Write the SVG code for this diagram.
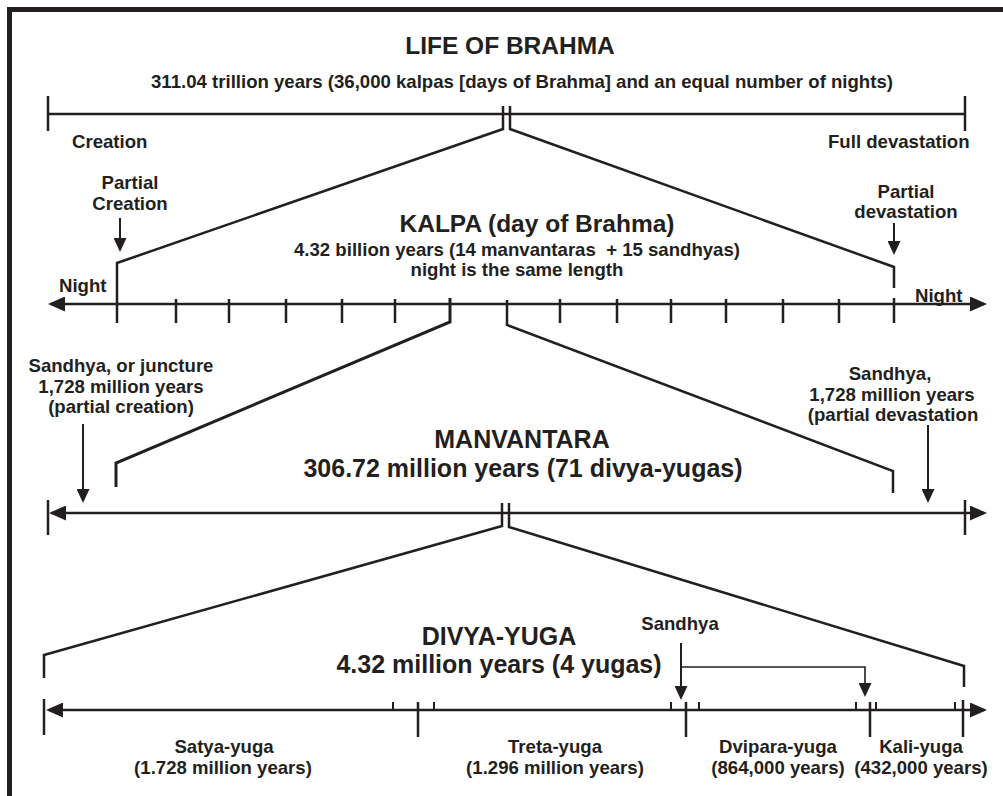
<svg xmlns="http://www.w3.org/2000/svg" width="1003" height="796" viewBox="0 0 1003 796">
<defs>
<style>
text{font-family:"Liberation Sans",Arial,sans-serif;font-weight:bold;fill:#231f20}
.s{font-size:18.6px}
.t{font-size:25px}
.c{text-anchor:middle}
.ln{stroke:#231f20;stroke-width:2.5;fill:none}
.th{stroke:#231f20;stroke-width:2;fill:none}
.tn{stroke:#231f20;stroke-width:1.6;fill:none}
</style>
<marker id="ah" viewBox="0 0 17 15" refX="14" refY="7.5" markerWidth="17" markerHeight="15" markerUnits="userSpaceOnUse" orient="auto-start-reverse"><path d="M0,0 L17,7.5 L0,15 z" fill="#231f20"/></marker>
<marker id="dh" viewBox="0 0 14 13" refX="11" refY="6.5" markerWidth="14" markerHeight="13" markerUnits="userSpaceOnUse" orient="auto"><path d="M0,0 L14,6.5 L0,13 z" fill="#231f20"/></marker>
</defs>
<rect width="1003" height="796" fill="#ffffff"/>
<path d="M9.5,800 V9.5 H1010" stroke="#231f20" stroke-width="5" fill="none"/>

<g id="connectors">
<!-- Life of Brahma axis -->
<line class="ln" x1="48" y1="114" x2="965" y2="114"/>
<line class="ln" x1="48" y1="96" x2="48" y2="131"/>
<line class="ln" x1="965" y1="96" x2="965" y2="131"/>
<polyline class="ln" points="503,106 503,129 117,263 117,323"/>
<polyline class="ln" points="510,106 510,129 894,267 894,288"/>
<!-- Kalpa axis -->
<line class="ln" x1="51" y1="304" x2="984" y2="304" marker-start="url(#ah)" marker-end="url(#ah)"/>
<path class="ln" d="M176,299V323M229,299V323M286,299V323M342,299V323M395,299V323M560,299V323M617,299V323M671,299V323M726,299V323M783,299V323M839,299V323M894,298V323"/>
<polyline class="ln" points="450,298 450,322 116,463 116,487" style="stroke-width:3"/>
<polyline class="ln" points="507,300 507,325 893,471 893,493"/>
<!-- Manvantara axis -->
<line class="ln" x1="52" y1="513" x2="984" y2="513" marker-start="url(#ah)" marker-end="url(#ah)"/>
<line class="ln" x1="48" y1="500" x2="48" y2="535"/>
<line class="ln" x1="965" y1="500" x2="965" y2="535"/>
<polyline class="ln" points="502,503 502,526 44,655 44,678"/>
<polyline class="ln" points="509,503 509,527 964,666 964,687"/>
<!-- Divya-yuga axis -->
<line class="ln" x1="49" y1="710" x2="984" y2="710" marker-start="url(#ah)" marker-end="url(#ah)"/>
<line class="ln" x1="44" y1="699" x2="44" y2="735"/>
<path class="th" d="M393,702V710M434,702V710M671,702V710M699,702V710M856,702V710M876,702V710M955,702V710"/>
<path class="ln" d="M418,702V737M686,702V737M870,702V737M963,700V737"/>
<!-- pointer arrows -->
<line class="th" x1="120" y1="218" x2="120" y2="249" marker-end="url(#dh)"/>
<line class="th" x1="894" y1="223" x2="894" y2="252" marker-end="url(#dh)"/>
<line class="th" x1="83" y1="424" x2="83" y2="500" marker-end="url(#dh)"/>
<line class="th" x1="928" y1="425" x2="928" y2="500" marker-end="url(#dh)"/>
<line class="th" x1="681" y1="643" x2="681" y2="697" marker-end="url(#dh)"/>
<polyline class="tn" points="681,667 865,667 865,694" marker-end="url(#dh)"/>
</g>

<g id="life-of-brahma">
<text class="c" x="510" y="54" style="font-size:24.5px">LIFE OF BRAHMA</text>
<text class="s c" x="522" y="88">311.04 trillion years (36,000 kalpas [days of Brahma] and an equal number of nights)</text>
</g>
<g id="creation"><text class="s" x="72" y="148">Creation</text></g>
<g id="full-devastation"><text class="s" x="828" y="148">Full devastation</text></g>
<g id="partial-creation">
<text class="s c" x="130" y="189">Partial</text>
<text class="s c" x="130" y="210">Creation</text>
</g>
<g id="partial-devastation">
<text class="s c" x="906" y="198">Partial</text>
<text class="s c" x="906" y="218">devastation</text>
</g>
<g id="kalpa">
<text class="c" x="537" y="232" style="font-size:24.5px">KALPA (day of Brahma)</text>
<text class="s c" x="517" y="256" xml:space="preserve">4.32 billion years (14 manvantaras  + 15 sandhyas)</text>
<text class="s c" x="517" y="276">night is the same length</text>
</g>
<g id="night-left"><text class="s" x="59" y="292">Night</text></g>
<g id="night-right"><text class="s" x="915" y="302">Night</text></g>
<g id="sandhya-left">
<text class="s c" x="121" y="372">Sandhya, or juncture</text>
<text class="s c" x="121" y="393">1,728 million years</text>
<text class="s c" x="121" y="413">(partial creation)</text>
</g>
<g id="sandhya-right">
<text class="s c" x="890" y="380">Sandhya,</text>
<text class="s c" x="892" y="401">1,728 million years</text>
<text class="s c" x="893" y="421">(partial devastation</text>
</g>
<g id="manvantara">
<text class="t c" x="522" y="448">MANVANTARA</text>
<text class="t c" x="523" y="477">306.72 million years (71 divya-yugas)</text>
</g>
<g id="divya-yuga">
<text class="t c" x="499" y="645">DIVYA-YUGA</text>
<text class="t c" x="499" y="673">4.32 million years (4 yugas)</text>
</g>
<g id="sandhya-divya"><text class="s c" x="680" y="630">Sandhya</text></g>
<g id="satya-yuga">
<text class="s c" x="224" y="753">Satya-yuga</text>
<text class="s c" x="223" y="774">(1.728 million years)</text>
</g>
<g id="treta-yuga">
<text class="s c" x="555" y="753">Treta-yuga</text>
<text class="s c" x="555" y="774">(1.296 million years)</text>
</g>
<g id="dvipara-yuga">
<text class="s c" x="778" y="753">Dvipara-yuga</text>
<text class="s c" x="778" y="774">(864,000 years)</text>
</g>
<g id="kali-yuga">
<text class="s c" x="921" y="753">Kali-yuga</text>
<text class="s c" x="921" y="774">(432,000 years)</text>
</g>
</svg>
